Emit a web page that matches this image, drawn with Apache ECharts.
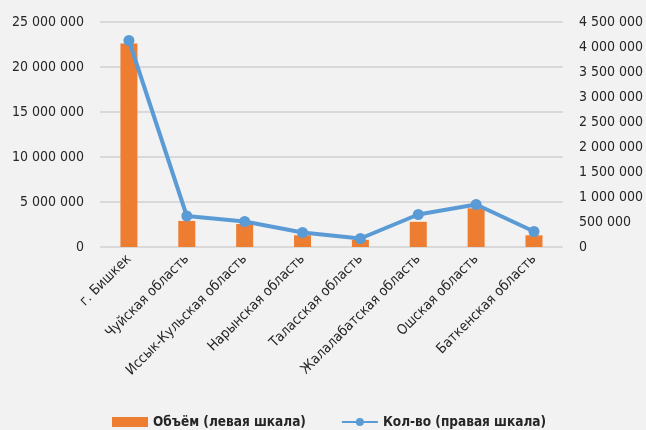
<!DOCTYPE html>
<html><head><meta charset="utf-8">
<script src="https://cdn.jsdelivr.net/npm/echarts@6/dist/echarts.min.js"></script>
<style>html,body{margin:0;padding:0;background:#f2f2f2}#c{width:646px;height:430px}</style>
</head><body><div id="c"></div>
<script>
const categories = ['г. Бишкек','Чуйская область','Иссык-Кульская область','Нарынская область','Таласская область','Жалалабатская область','Ошская область','Баткенская область'];
const volume = [22600000, 2900000, 2550000, 1300000, 800000, 2800000, 4300000, 1300000];
const count = [4130000, 620000, 510000, 290000, 170000, 650000, 850000, 310000];
const seriesNames = ['Объём (левая шкала)', 'Кол-во (правая шкала)'];

const font = '"DejaVu Sans Condensed", "Liberation Sans Narrow", "Roboto Condensed", sans-serif';
function fmt(v){ return String(v).replace(/\B(?=(\d{3})+(?!\d))/g, ' '); }
const chart = echarts.init(document.getElementById('c'));
chart.setOption({
  backgroundColor: '#f2f2f2',
  animation: false,
  textStyle: { fontFamily: font },
  grid: { left: 100, right: 81, top: 22, bottom: 183 },
  legend: {
    top: 415, left: 112, padding: 0, itemGap: 35, itemWidth: 36, itemHeight: 10,
    textStyle: { fontFamily: font, fontSize: 13.5, fontWeight: 'bold', color: '#262626' },
    data: [{ name: seriesNames[0], icon: 'rect' }, { name: seriesNames[1] }]
  },
  xAxis: {
    type: 'category', data: categories,
    axisLine: { show: false }, axisTick: { show: false },
    axisLabel: { rotate: 45, fontSize: 14, color: '#262626', fontFamily: font, interval: 0, margin: 10 }
  },
  yAxis: [
    { type: 'value', min: 0, max: 25000000, interval: 5000000,
      axisLine: { show: false }, axisTick: { show: false },
      splitLine: { lineStyle: { color: '#d9d9d9', width: 2 } },
      axisLabel: { formatter: fmt, fontSize: 14, color: '#262626', fontFamily: font, margin: 16 } },
    { type: 'value', min: 0, max: 4500000, interval: 500000,
      axisLine: { show: false }, axisTick: { show: false }, splitLine: { show: false },
      axisLabel: { formatter: fmt, fontSize: 14, color: '#262626', fontFamily: font, margin: 16 } }
  ],
  series: [
    { name: seriesNames[0], type: 'bar', data: volume, barWidth: 17, yAxisIndex: 0,
      itemStyle: { color: '#ed7d31' } },
    { name: seriesNames[1], type: 'line', data: count, yAxisIndex: 1,
      symbol: 'circle', symbolSize: 11,
      lineStyle: { color: '#5b9bd5', width: 4 }, itemStyle: { color: '#5b9bd5' } }
  ]
});
</script></body></html>
